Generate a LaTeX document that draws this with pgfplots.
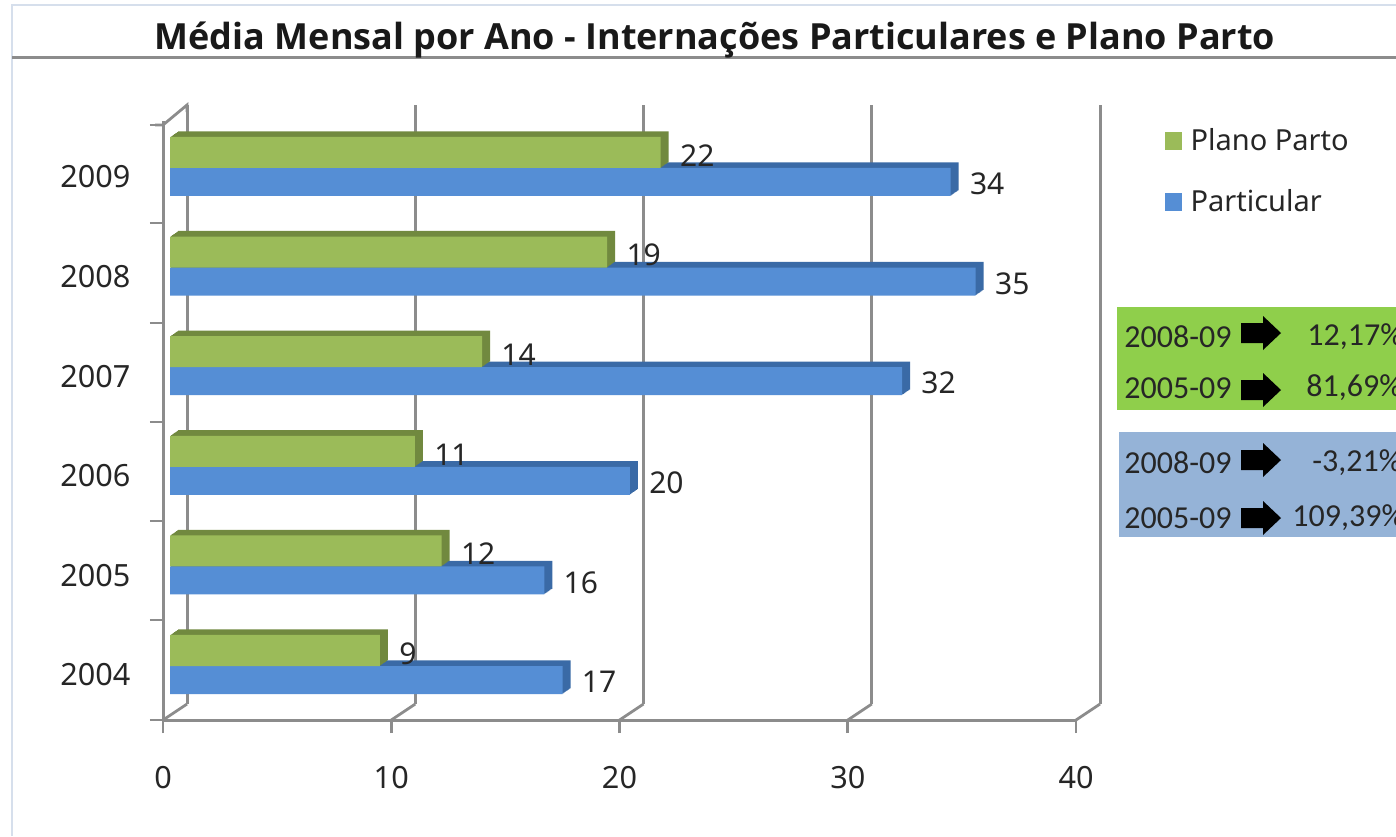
\documentclass[border=0pt]{standalone}
\usepackage{fontspec}
\usepackage{pgfplots}
\usepackage{pgfplotstable}
\pgfplotsset{compat=1.18}
\setmainfont{Noto Sans}
\newfontfamily\titlefont{Open Sans}
\newfontfamily\boxfont{Carlito}

\definecolor{gfront}{HTML}{9BBB59}
\definecolor{gdark}{HTML}{71893F}
\definecolor{bfront}{HTML}{558ED5}
\definecolor{bdark}{HTML}{3A6AA6}
\definecolor{gridc}{HTML}{8C8C8C}
\definecolor{boxg}{HTML}{8FCF4B}
\definecolor{boxb}{HTML}{95B3D7}
\definecolor{framec}{HTML}{D6DFEC}

% y: 0 = 2004 ... 5 = 2009; last columns are the printed (rounded) labels
\pgfplotstableread{
y plano particular lp lb
0 9.20 17.2 9 17
1 11.9 16.4 12 16
2 10.73 20.15 11 20
3 13.67 32.07 14 32
4 19.15 35.3 19 35
5 21.5 34.2 22 34
}\datatable

\pgfplotsset{sq/.style={legend image code/.code={\fill[##1,draw=none] (0pt,-4.5pt) rectangle (8.5pt,4.5pt); \path[draw=none,fill=none] (0pt,0pt) rectangle (11pt,0pt);}}}

\begin{document}
\begin{tikzpicture}[px/.style={x=0.5pt,y=-0.5pt}]
\useasboundingbox (0,0) rectangle (698pt,-418pt);
\fill[white] (0,0) rectangle (698pt,-418pt);

\begin{axis}[
  at={(81.5pt,-360pt)}, anchor=south west,
  scale only axis, width=456.5pt, height=299.5pt,
  xmin=0, xmax=40, ymin=-0.462, ymax=5.552,
  axis x line=bottom, axis y line=left,
  axis line style={gridc, line width=1.5pt, -},
  xtick={0,10,20,30,40},
  minor xtick={0,10,20,30,40},
  ytick={0,1,2,3,4,5},
  yticklabels={2004,2005,2006,2007,2008,2009},
  minor ytick={-0.462,0.542,1.536,2.53,3.524,4.528,5.512},
  major tick style={draw=none},
  minor tick style={draw=gridc, line width=1.3pt},
  minor tick length=6.5pt,
  tick align=outside,
  xmajorgrids,
  grid style={gridc, line width=1.5pt, xshift=12pt, yshift=8pt},
  tick label style={font=\fontsize{15.3}{17}\selectfont, text=black!85},
  /pgf/number format/assume math mode=true,
  xticklabel style={yshift=-15.5pt},
  yticklabel style={xshift=-8.5pt, yshift=-0.5pt},
  clip=false,
  legend style={at={(1.09,1.001)}, anchor=north west, draw=none, fill=none,
    font=\fontsize{14.5}{17}\selectfont, row sep=14pt, text=black!85},
  legend cell align=left,
  xbar, point meta=explicit symbolic,
]
% blue series: depth layers then front face
\pgfplotsinvokeforeach{8,7,6,5,4,3,2,1}{
  \addplot[forget plot, draw=none, fill=bdark, bar width=14pt, bar shift=-3pt,
    xshift={3.5pt+#1*0.5pt}, yshift={#1*0.35pt}] table[x=particular,y=y,meta=lb] {\datatable};
}
\addplot[forget plot, draw=none, fill=bfront, bar width=14pt, bar shift=-3pt, xshift=3.5pt,
  nodes near coords, nodes near coords align={horizontal},
  every node near coord/.append style={anchor=west, xshift=9.5pt, yshift=-1pt, inner sep=0pt, text=black!85,
    font=\fontsize{15}{17}\selectfont}]
  table[x=particular,y=y,meta=lb] {\datatable};
% green series: depth layers then front face
\pgfplotsinvokeforeach{8,7,6,5,4,3,2,1}{
  \addplot[forget plot, draw=none, fill=gdark, bar width=15.5pt, bar shift=11.75pt,
    xshift={3.5pt+#1*0.5pt}, yshift={#1*0.35pt}] table[x=plano,y=y,meta=lp] {\datatable};
}
\addplot[forget plot, draw=none, fill=gfront, bar width=15.5pt, bar shift=11.75pt, xshift=3.5pt,
  nodes near coords, nodes near coords align={horizontal},
  every node near coord/.append style={anchor=west, xshift=9.5pt, yshift=-1.5pt, inner sep=0pt, text=black!85,
    font=\fontsize{15}{17}\selectfont}]
  table[x=plano,y=y,meta=lp] {\datatable};
\addlegendimage{sq, fill=gfront}
\addlegendentry{Plano Parto}
\addlegendimage{sq, fill=bfront}
\addlegendentry{Particular}
\end{axis}

\begin{scope}[px]
\clip (0,0) rectangle (1396,836);
% frame and title
\draw[framec, line width=1pt] (12,836) -- (12,5) -- (1396,5);
\draw[gridc, line width=1.5pt] (12,57) -- (1396,57);
\node[font=\titlefont\fontsize{18}{20}\selectfont\bfseries, text=black!90] at (715,40)
  {Média Mensal por Ano - Internações Particulares e Plano Parto};
% 3D corners of the axes
\foreach \x in {163,391.25,619.5,847.75,1076}
  \draw[gridc, line width=1.4pt] (\x,720) -- (\x+24,704);
\draw[gridc, line width=1.4pt] (155,125) -- (163,125) -- (187,105) -- (187,112);
% variation boxes
\fill[boxg] (1117,307) rectangle (1396,410);
\fill[boxb] (1119,432) rectangle (1396,537);
\foreach \yy/\ya/\lab/\val/\vx in {337/333/2008-09/{12,17\%}/1307,
    388/390/2005-09/{81,69\%}/1306,
    463/460/2008-09/{-3,21\%}/1312,
    518/518/2005-09/{109,39\%}/1292}{
  \node[anchor=west, inner sep=0pt, font=\boxfont\fontsize{16}{18}\selectfont, text=black!85]
    at (1124,\yy) {\lab};
  \node[anchor=west, inner sep=0pt, font=\boxfont\fontsize{16}{18}\selectfont, text=black!85]
    at (\vx,\yy) {\val};
  \fill[black] (1241,\ya-10) -- (1263,\ya-10) -- (1263,\ya-17) -- (1281,\ya)
    -- (1263,\ya+17) -- (1263,\ya+10) -- (1241,\ya+10) -- cycle;
}
\end{scope}
\end{tikzpicture}
\end{document}
